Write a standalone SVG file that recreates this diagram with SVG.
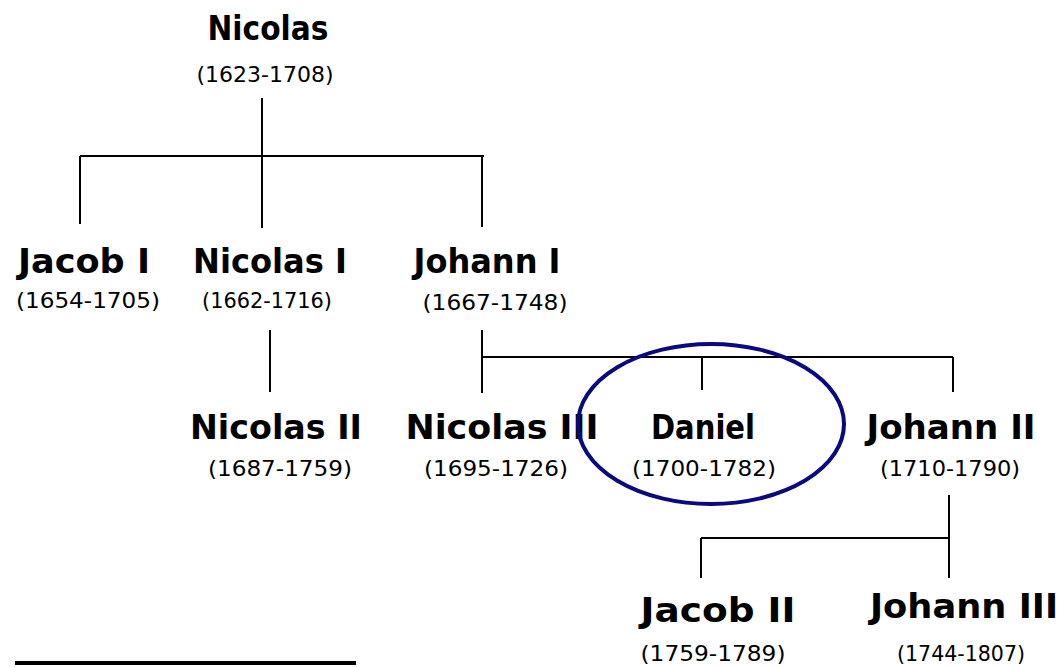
<svg xmlns="http://www.w3.org/2000/svg" width="1064" height="667" viewBox="0 0 1064 667">
<style>
.name{font-family:"DejaVu Sans","Liberation Sans",sans-serif;font-weight:bold;font-size:33px;fill:#000;text-anchor:middle}
.date{font-family:"DejaVu Sans","Liberation Sans",sans-serif;font-size:22px;fill:#000;text-anchor:middle}
.ln{stroke:#000;stroke-width:2;fill:none}
</style>
<rect width="1064" height="667" fill="#fff"/>
<g id="connectors">
<path class="ln" d="M262 98V228M80 156H484M80 156V224M482 156V227"/>
<path class="ln" d="M270 330V392M482 330V393M482 357H953M702 357V390M953 357V392"/>
<path class="ln" d="M949 495V578M701 538H949M701 538V578"/>
</g>
<g id="n-nicolas"><text class="name" x="268" y="40" textLength="121" lengthAdjust="spacingAndGlyphs">Nicolas</text><text class="date" x="265" y="82" textLength="137" lengthAdjust="spacingAndGlyphs">(1623-1708)</text></g>
<g id="n-jacob1"><text class="name" x="84" y="273" textLength="132" lengthAdjust="spacingAndGlyphs">Jacob I</text><text class="date" x="88" y="308" textLength="144" lengthAdjust="spacingAndGlyphs">(1654-1705)</text></g>
<g id="n-nicolas1"><text class="name" x="270" y="273" textLength="154" lengthAdjust="spacingAndGlyphs">Nicolas I</text><text class="date" x="267" y="308" textLength="130" lengthAdjust="spacingAndGlyphs">(1662-1716)</text></g>
<g id="n-johann1"><text class="name" x="487" y="273" textLength="147" lengthAdjust="spacingAndGlyphs">Johann I</text><text class="date" x="495" y="310" textLength="145" lengthAdjust="spacingAndGlyphs">(1667-1748)</text></g>
<g id="n-nicolas2"><text class="name" x="276" y="439" textLength="172" lengthAdjust="spacingAndGlyphs">Nicolas II</text><text class="date" x="280" y="476" textLength="144" lengthAdjust="spacingAndGlyphs">(1687-1759)</text></g>
<g id="n-nicolas3"><text class="name" x="502" y="439" textLength="193" lengthAdjust="spacingAndGlyphs">Nicolas III</text><text class="date" x="496" y="476" textLength="144" lengthAdjust="spacingAndGlyphs">(1695-1726)</text></g>
<g id="n-daniel"><text class="name" x="703" y="439" textLength="104" lengthAdjust="spacingAndGlyphs">Daniel</text><text class="date" x="704" y="476" textLength="144" lengthAdjust="spacingAndGlyphs">(1700-1782)</text></g>
<g id="n-johann2"><text class="name" x="951" y="439" textLength="169" lengthAdjust="spacingAndGlyphs">Johann II</text><text class="date" x="950" y="476" textLength="140" lengthAdjust="spacingAndGlyphs">(1710-1790)</text></g>
<g id="n-jacob2"><text class="name" x="718" y="622" textLength="155" lengthAdjust="spacingAndGlyphs">Jacob II</text><text class="date" x="713" y="661" textLength="145" lengthAdjust="spacingAndGlyphs">(1759-1789)</text></g>
<g id="n-johann3"><text class="name" x="964" y="618" textLength="188" lengthAdjust="spacingAndGlyphs">Johann III</text><text class="date" x="961" y="661" textLength="128" lengthAdjust="spacingAndGlyphs">(1744-1807)</text></g>
<ellipse id="highlight" cx="711" cy="424" rx="133" ry="80" fill="none" stroke="#0a0a80" stroke-width="4"/>
<rect id="underline" x="15" y="661" width="341" height="4" fill="#000"/>
</svg>
